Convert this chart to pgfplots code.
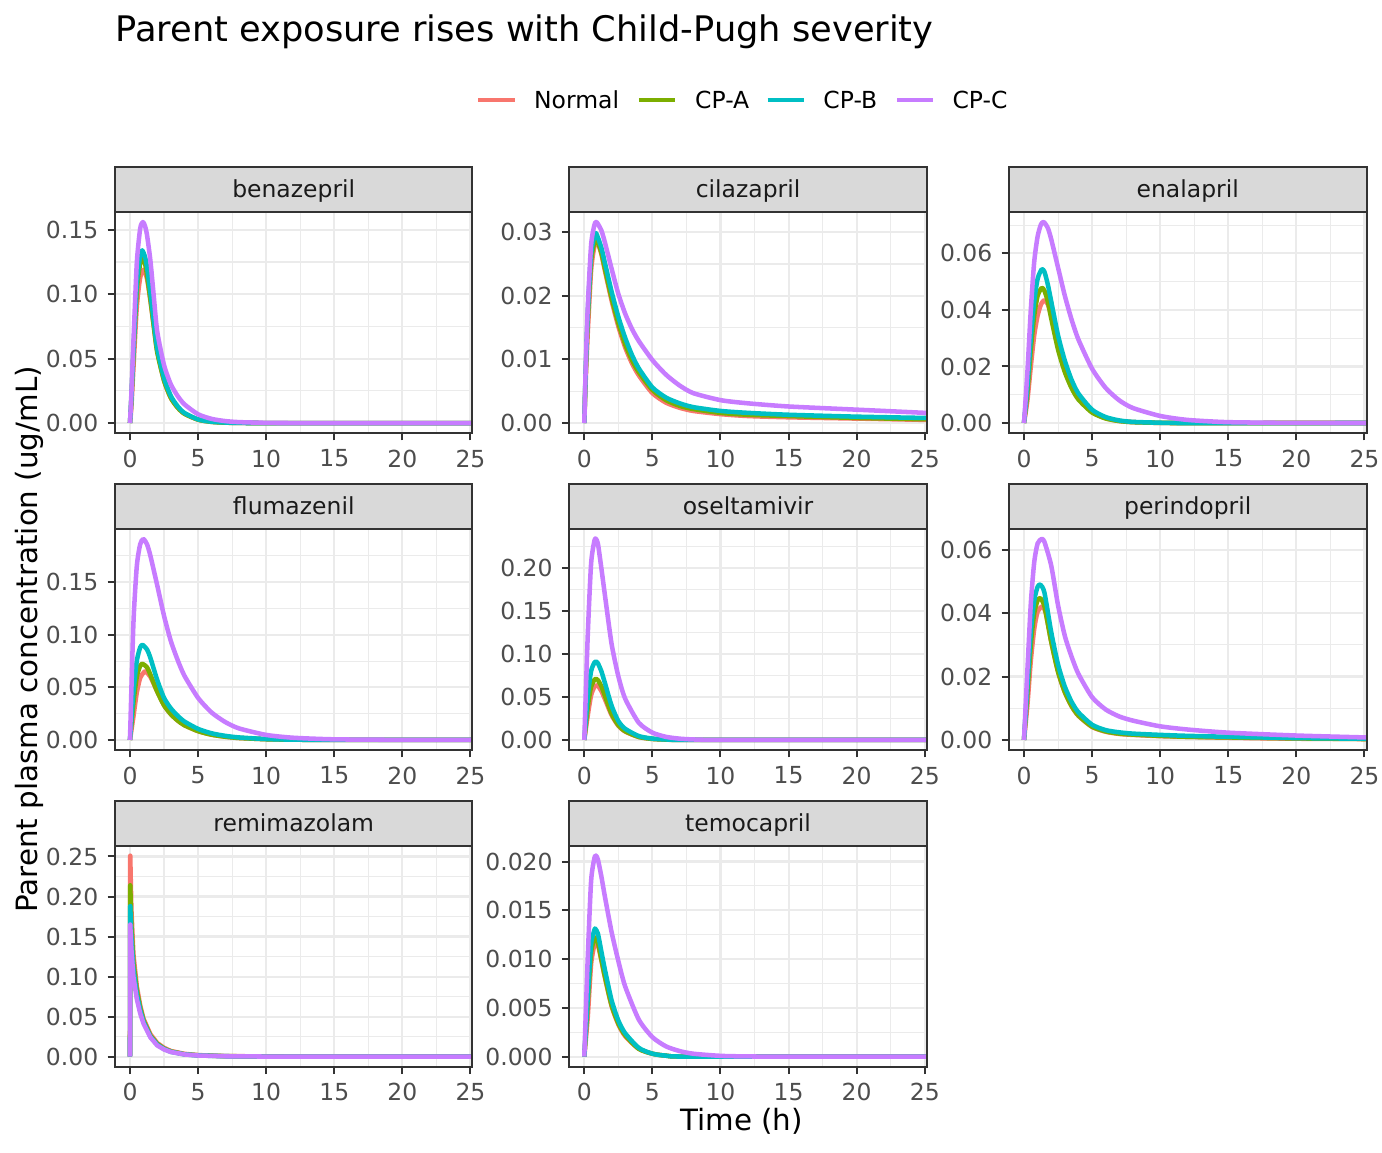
\documentclass[border=0pt]{standalone}
\usepackage{fontspec}
\setmainfont{DejaVu Sans}
\usepackage{pgfplots}
\pgfplotsset{compat=1.18}
\definecolor{cN}{HTML}{F8766D}
\definecolor{cA}{HTML}{7CAE00}
\definecolor{cB}{HTML}{00BFC4}
\definecolor{cC}{HTML}{C77CFF}
\definecolor{grey92}{HTML}{EBEBEB}
\definecolor{grey20}{HTML}{333333}
\definecolor{grey30}{HTML}{4D4D4D}
\definecolor{grey85}{HTML}{D9D9D9}
\definecolor{grey10}{HTML}{1A1A1A}
\newcommand{\ticksize}{\fontsize{8.8}{10}\selectfont}
\pgfplotsset{
  panel/.style={
    scale only axis, width=134.06pt, height=82.9pt, anchor=south west,
    xmin=-1.1, xmax=25.15,
    xtick={0,5,10,15,20,25}, minor xtick={2.5,7.5,12.5,17.5,22.5},
    grid=both,
    major grid style={color=grey92, line width=0.8pt},
    minor grid style={color=grey92, line width=0.4pt},
    tick align=outside, tick pos=left,
    major tick length=2.75pt, minor tick length=0pt,
    tick style={color=grey20, line width=0.75pt},
    axis line style={draw=none},
    tick label style={font=\ticksize, text=grey30},
    /pgf/number format/assume math mode=true,
    scaled y ticks=false,
    yticklabel style={/pgf/number format/fixed, /pgf/number format/fixed zerofill, /pgf/number format/precision=2},
    clip=true,
    no markers,
    every axis plot/.append style={line width=1.7pt, line join=round},
    cycle list={{cN},{cA},{cB},{cC}},
  },
  smoothed/.style={every axis plot/.append style={smooth, tension=0.4}},
}
\newcommand{\strip}[2]{%
  \draw[grey20, line width=0.75pt] (#1.south west) rectangle (#1.north east);
  \draw[fill=grey85, draw=grey20, line width=0.75pt] (#1.north west) rectangle ([yshift=16.76pt]#1.north east);
  \path (#1.north) ++(0,5.36pt) node[anchor=base, inner sep=0pt, font=\ticksize, text=grey10] {#2};
}
\begin{document}
\begin{tikzpicture}
\path[use as bounding box] (0,0) rectangle (518.25pt,432pt);

% benazepril
\begin{axis}[panel, smoothed, name=p1, at={(43.125pt,269.6pt)}, ymin=-0.0078, ymax=0.1638,
  ytick={0,0.05,0.10,0.15}, minor ytick={0.025,0.075,0.125}]
\addplot coordinates {(0,0)(0.1,0.012)(0.25,0.042)(0.5,0.090)(0.75,0.113)(1,0.119)(1.25,0.112)(1.5,0.095)(1.75,0.075)(2,0.056)(2.5,0.033)(3,0.0195)(3.5,0.012)(4,0.0072)(5,0.0026)(6,0.0009)(7,0.0003)(8,0.0001)(10,0)(26,0)};
\addplot coordinates {(0,0)(0.1,0.018)(0.25,0.052)(0.5,0.103)(0.75,0.124)(0.9,0.128)(1.1,0.124)(1.25,0.115)(1.5,0.096)(1.75,0.075)(2,0.055)(2.5,0.033)(3,0.0195)(3.5,0.012)(4,0.0072)(5,0.0026)(6,0.0009)(7,0.0003)(8,0.0001)(10,0)(26,0)};
\addplot coordinates {(0,0)(0.1,0.019)(0.25,0.055)(0.5,0.108)(0.75,0.130)(0.9,0.134)(1.1,0.129)(1.25,0.121)(1.5,0.101)(1.75,0.079)(2,0.058)(2.5,0.035)(3,0.021)(3.5,0.013)(4,0.0078)(5,0.0028)(6,0.001)(7,0.0004)(8,0.0001)(10,0)(26,0)};
\addplot coordinates {(0,0)(0.1,0.022)(0.25,0.062)(0.5,0.124)(0.75,0.151)(0.95,0.156)(1.1,0.153)(1.25,0.146)(1.5,0.126)(1.75,0.098)(2,0.071)(2.5,0.045)(3,0.030)(3.5,0.021)(4,0.0145)(5,0.0068)(6,0.0032)(7,0.0015)(8,0.0007)(10,0.00015)(12,0)(26,0)};
\end{axis}

% cilazapril
\begin{axis}[panel, smoothed, name=p2, at={(213.49pt,269.6pt)}, ymin=-0.00158, ymax=0.03318,
  ytick={0,0.01,0.02,0.03}, minor ytick={0.005,0.015,0.025}]
\addplot coordinates {(0,0)(0.1,0.0065)(0.25,0.014)(0.5,0.024)(0.75,0.0279)(0.95,0.0285)(1.25,0.0266)(1.5,0.0241)(2,0.0193)(2.5,0.0152)(3,0.0119)(3.5,0.0094)(4,0.0075)(5,0.0047)(6,0.0032)(7,0.0024)(8,0.0019)(10,0.0014)(12,0.0011)(15,0.0009)(20,0.0007)(25,0.0005)(26,0.0005)};
\addplot coordinates {(0,0)(0.1,0.0075)(0.25,0.016)(0.5,0.0255)(0.75,0.0285)(0.9,0.029)(1.25,0.0268)(1.5,0.0244)(2,0.0197)(2.5,0.0157)(3,0.0124)(3.5,0.0099)(4,0.008)(5,0.0052)(6,0.0036)(7,0.0027)(8,0.0022)(10,0.0016)(12,0.0013)(15,0.0011)(20,0.0008)(25,0.0006)(26,0.0006)};
\addplot coordinates {(0,0)(0.1,0.008)(0.25,0.017)(0.5,0.0265)(0.75,0.0295)(0.88,0.0298)(1.25,0.0276)(1.5,0.0253)(2,0.0207)(2.5,0.0167)(3,0.0134)(3.5,0.0107)(4,0.0086)(5,0.0056)(6,0.0040)(7,0.0031)(8,0.0025)(10,0.0019)(12,0.0016)(15,0.0013)(20,0.001)(25,0.0008)(26,0.0008)};
\addplot coordinates {(0,0)(0.1,0.0085)(0.25,0.018)(0.5,0.028)(0.75,0.0312)(0.9,0.0316)(1.25,0.0303)(1.5,0.0285)(2,0.0243)(2.5,0.0203)(3,0.0172)(3.5,0.0148)(4,0.0129)(5,0.0099)(6,0.0076)(7,0.0059)(8,0.0047)(10,0.0036)(12,0.0031)(15,0.0026)(20,0.0021)(25,0.0016)(26,0.0015)};
\end{axis}

% enalapril
\begin{axis}[panel, smoothed, name=p3, at={(378.375pt,269.6pt)}, ymin=-0.00356, ymax=0.07466,
  ytick={0,0.02,0.04,0.06}, minor ytick={0.01,0.03,0.05,0.07}]
\addplot coordinates {(0,0)(0.25,0.008)(0.5,0.020)(0.75,0.031)(1,0.038)(1.25,0.042)(1.5,0.0435)(1.75,0.042)(2,0.038)(2.5,0.028)(3,0.0195)(3.5,0.0133)(4,0.009)(5,0.0039)(6,0.0017)(7,0.0007)(8,0.0003)(10,0.00005)(12,0)(26,0)};
\addplot coordinates {(0,0)(0.25,0.011)(0.5,0.026)(0.75,0.038)(1,0.045)(1.3,0.0478)(1.5,0.0468)(1.75,0.043)(2,0.037)(2.5,0.026)(3,0.018)(3.5,0.0123)(4,0.0083)(5,0.0037)(6,0.0016)(7,0.0007)(8,0.0003)(10,0.00005)(12,0)(26,0)};
\addplot coordinates {(0,0)(0.25,0.013)(0.5,0.030)(0.75,0.043)(1,0.051)(1.3,0.0544)(1.5,0.0535)(1.75,0.049)(2,0.043)(2.5,0.031)(3,0.022)(3.5,0.0152)(4,0.0104)(5,0.0047)(6,0.0021)(7,0.0009)(8,0.0004)(10,0.0001)(12,0)(26,0)};
\addplot coordinates {(0,0)(0.25,0.018)(0.5,0.040)(0.75,0.057)(1,0.066)(1.25,0.0703)(1.45,0.0711)(1.75,0.069)(2,0.065)(2.5,0.055)(3,0.045)(3.5,0.0365)(4,0.0295)(5,0.0192)(6,0.0124)(7,0.008)(8,0.0053)(10,0.0025)(12,0.0011)(15,0.0003)(20,0.00003)(26,0)};
\end{axis}

% flumazenil
\begin{axis}[panel, smoothed, name=p4, at={(43.125pt,150.75pt)}, ymin=-0.00955, ymax=0.20055,
  ytick={0,0.05,0.10,0.15}, minor ytick={0.025,0.075,0.125,0.175}]
\addplot coordinates {(0,0)(0.25,0.022)(0.5,0.045)(0.75,0.059)(1,0.064)(1.15,0.0651)(1.5,0.060)(2,0.046)(2.5,0.033)(3,0.0245)(3.5,0.0185)(4,0.014)(5,0.0084)(6,0.005)(7,0.0031)(8,0.0019)(10,0.0007)(12,0.0003)(15,0.00005)(26,0)};
\addplot coordinates {(0,0)(0.25,0.035)(0.5,0.060)(0.75,0.0705)(0.93,0.0723)(1.25,0.069)(1.5,0.062)(2,0.046)(2.5,0.033)(3,0.0245)(3.5,0.0185)(4,0.014)(5,0.0084)(6,0.005)(7,0.0031)(8,0.0019)(10,0.0007)(12,0.0003)(15,0.00005)(26,0)};
\addplot coordinates {(0,0)(0.25,0.045)(0.5,0.075)(0.75,0.088)(0.93,0.0903)(1.25,0.086)(1.5,0.078)(2,0.057)(2.5,0.040)(3,0.030)(3.5,0.023)(4,0.0175)(5,0.0105)(6,0.0063)(7,0.0039)(8,0.0024)(10,0.0009)(12,0.0003)(15,0.0001)(26,0)};
\addplot coordinates {(0,0)(0.25,0.11)(0.5,0.165)(0.75,0.186)(0.98,0.191)(1.25,0.186)(1.5,0.175)(2,0.147)(2.5,0.118)(3,0.094)(3.5,0.076)(4,0.061)(5,0.040)(6,0.026)(7,0.017)(8,0.011)(10,0.0048)(12,0.0021)(15,0.0006)(20,0.0001)(26,0)};
\end{axis}

% oseltamivir
\begin{axis}[panel, smoothed, name=p5, at={(213.49pt,150.75pt)}, ymin=-0.01168, ymax=0.24518,
  ytick={0,0.05,0.10,0.15,0.20}, minor ytick={0.025,0.075,0.125,0.175,0.225}]
\addplot coordinates {(0,0)(0.25,0.028)(0.5,0.052)(0.75,0.062)(0.91,0.0635)(1,0.063)(1.25,0.057)(1.5,0.048)(2,0.029)(2.5,0.0165)(3,0.0098)(4,0.0034)(5,0.0012)(6,0.0004)(8,0.00005)(26,0)};
\addplot coordinates {(0,0)(0.25,0.038)(0.5,0.062)(0.75,0.070)(0.85,0.0712)(1,0.0695)(1.25,0.0625)(1.5,0.052)(2,0.0305)(2.5,0.0172)(3,0.0102)(4,0.0035)(5,0.0012)(6,0.0005)(8,0.0001)(26,0)};
\addplot coordinates {(0,0)(0.25,0.05)(0.5,0.080)(0.75,0.090)(0.85,0.0912)(1,0.089)(1.25,0.080)(1.5,0.067)(2,0.040)(2.5,0.022)(3,0.013)(4,0.0045)(5,0.0016)(6,0.0006)(8,0.0001)(26,0)};
\addplot coordinates {(0,0)(0.25,0.12)(0.5,0.205)(0.75,0.232)(0.86,0.2335)(1,0.228)(1.25,0.20)(1.5,0.17)(2,0.112)(2.5,0.074)(3,0.048)(4,0.020)(5,0.0085)(6,0.0036)(7,0.0015)(8,0.0006)(10,0.0001)(26,0)};
\end{axis}

% perindopril
\begin{axis}[panel, smoothed, name=p6, at={(378.375pt,150.75pt)}, ymin=-0.00317, ymax=0.06657,
  ytick={0,0.02,0.04,0.06}, minor ytick={0.01,0.03,0.05}]
\addplot coordinates {(0,0)(0.25,0.011)(0.5,0.025)(0.75,0.035)(1,0.0405)(1.35,0.0421)(1.6,0.040)(2,0.031)(2.5,0.0215)(3,0.015)(3.5,0.0106)(4,0.0076)(5,0.0041)(6,0.0026)(7,0.0019)(8,0.0016)(10,0.0012)(12,0.001)(15,0.0007)(20,0.0004)(25,0.0003)(26,0.0003)};
\addplot coordinates {(0,0)(0.25,0.015)(0.5,0.030)(0.75,0.040)(1,0.044)(1.2,0.0447)(1.5,0.0422)(2,0.031)(2.5,0.0215)(3,0.0151)(3.5,0.0107)(4,0.0077)(5,0.0042)(6,0.0027)(7,0.002)(8,0.0017)(10,0.0013)(12,0.001)(15,0.0008)(20,0.0005)(25,0.0003)(26,0.0003)};
\addplot coordinates {(0,0)(0.25,0.017)(0.5,0.034)(0.75,0.044)(1,0.0483)(1.2,0.049)(1.5,0.0465)(2,0.034)(2.5,0.0238)(3,0.0168)(3.5,0.012)(4,0.0087)(5,0.0048)(6,0.0031)(7,0.0024)(8,0.002)(10,0.0016)(12,0.0013)(15,0.001)(20,0.0006)(25,0.0004)(26,0.0004)};
\addplot coordinates {(0,0)(0.25,0.022)(0.5,0.043)(0.75,0.056)(1,0.062)(1.3,0.0634)(1.5,0.0625)(2,0.055)(2.5,0.0425)(3,0.0328)(3.5,0.0262)(4,0.0208)(5,0.0135)(6,0.0096)(7,0.0074)(8,0.0061)(10,0.0043)(12,0.0033)(15,0.0023)(20,0.0014)(25,0.0008)(26,0.0007)};
\end{axis}

% remimazolam
\begin{axis}[panel, name=p7, at={(43.125pt,32.0pt)}, ymin=-0.01255, ymax=0.26355,
  ytick={0,0.05,0.10,0.15,0.20,0.25}, minor ytick={0.025,0.075,0.125,0.175,0.225}]
\addplot coordinates {(0,0)(0.02,0.251)(0.1,0.185)(0.25,0.128)(0.5,0.088)(0.75,0.064)(1,0.047)(1.5,0.028)(2,0.017)(2.5,0.011)(3,0.007)(4,0.0035)(5,0.0019)(7,0.0007)(10,0.0002)(15,0)(26,0)};
\addplot coordinates {(0,0)(0.02,0.214)(0.1,0.165)(0.25,0.118)(0.5,0.083)(0.75,0.061)(1,0.045)(1.5,0.026)(2,0.016)(2.5,0.010)(3,0.0065)(4,0.003)(5,0.0017)(7,0.0006)(10,0.0001)(15,0)(26,0)};
\addplot coordinates {(0,0)(0.02,0.188)(0.1,0.150)(0.25,0.110)(0.5,0.078)(0.75,0.058)(1,0.043)(1.5,0.025)(2,0.015)(2.5,0.0095)(3,0.006)(4,0.0028)(5,0.0015)(7,0.0005)(10,0.0001)(15,0)(26,0)};
\addplot coordinates {(0,0)(0.02,0.165)(0.1,0.135)(0.25,0.100)(0.5,0.072)(0.75,0.054)(1,0.041)(1.5,0.024)(2,0.014)(2.5,0.009)(3,0.0058)(4,0.0027)(5,0.0014)(7,0.0005)(10,0.0001)(15,0)(26,0)};
\end{axis}

% temocapril
\begin{axis}[panel, smoothed, name=p8, at={(213.49pt,32.0pt)}, ymin=-0.00103, ymax=0.02163,
  ytick={0,0.005,0.010,0.015,0.020}, minor ytick={0.0025,0.0075,0.0125,0.0175},
  yticklabel style={/pgf/number format/precision=3}]
\addplot coordinates {(0,0)(0.25,0.004)(0.5,0.0095)(0.75,0.0115)(0.9,0.0117)(1,0.0115)(1.25,0.0099)(1.5,0.0082)(2,0.0052)(2.5,0.0033)(3,0.0021)(4,0.0008)(5,0.0003)(6,0.0001)(8,0)(26,0)};
\addplot coordinates {(0,0)(0.25,0.0055)(0.5,0.0107)(0.75,0.0121)(0.82,0.0122)(1,0.0117)(1.25,0.0100)(1.5,0.0083)(2,0.0053)(2.5,0.0034)(3,0.0022)(4,0.0008)(5,0.0003)(6,0.0001)(8,0)(26,0)};
\addplot coordinates {(0,0)(0.25,0.006)(0.5,0.0115)(0.75,0.013)(0.81,0.0131)(1,0.0126)(1.25,0.0108)(1.5,0.009)(2,0.0058)(2.5,0.0037)(3,0.0024)(4,0.0009)(5,0.0003)(6,0.0001)(8,0)(26,0)};
\addplot coordinates {(0,0)(0.25,0.010)(0.5,0.018)(0.75,0.0204)(0.86,0.0206)(1,0.0202)(1.25,0.0185)(1.5,0.0165)(2,0.0128)(2.5,0.0098)(3,0.0072)(4,0.0038)(5,0.002)(6,0.00105)(7,0.00057)(8,0.0003)(10,0.00008)(12,0.00002)(15,0)(26,0)};
\end{axis}

\strip{p1}{benazepril}
\strip{p2}{cilazapril}
\strip{p3}{enalapril}
\strip{p4}{flumazenil}
\strip{p5}{oseltamivir}
\strip{p6}{perindopril}
\strip{p7}{remimazolam}
\strip{p8}{temocapril}

% title
\node[anchor=base west, inner sep=0pt, font=\fontsize{13.2}{16}\selectfont] at (43.1pt,416.4pt) {Parent exposure rises with Child-Pugh severity};

% legend
\draw[cN, line width=1.7pt] (179.4pt,394.5pt) -- (193.1pt,394.5pt);
\draw[cA, line width=1.7pt] (239.6pt,394.5pt) -- (253.1pt,394.5pt);
\draw[cB, line width=1.7pt] (287.9pt,394.5pt) -- (301.6pt,394.5pt);
\draw[cC, line width=1.7pt] (336.5pt,394.5pt) -- (350.0pt,394.5pt);
\node[anchor=base west, inner sep=0pt, font=\ticksize] at (200.1pt,391.4pt) {Normal};
\node[anchor=base west, inner sep=0pt, font=\ticksize] at (260.5pt,391.4pt) {CP-A};
\node[anchor=base west, inner sep=0pt, font=\ticksize] at (308.6pt,391.4pt) {CP-B};
\node[anchor=base west, inner sep=0pt, font=\ticksize] at (357.0pt,391.4pt) {CP-C};

% axis titles
\node[anchor=base, inner sep=0pt, font=\fontsize{11}{13}\selectfont] at (278.1pt,7.9pt) {Time (h)};
\node[anchor=base, inner sep=0pt, rotate=90, font=\fontsize{11}{13}\selectfont] at (14.0pt,192.2pt) {Parent plasma concentration (ug/mL)};
\end{tikzpicture}
\end{document}
